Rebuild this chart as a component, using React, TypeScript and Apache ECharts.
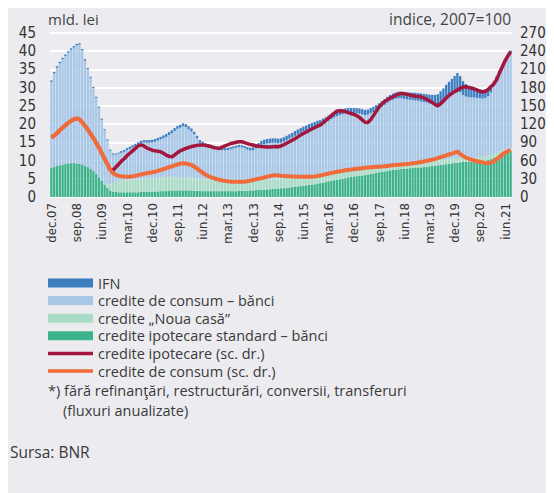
import React, { useEffect, useRef } from "react";
import * as echarts from "echarts";

// Monthly data, dec.07 .. aug.21 (165 months)
const monthNames = ["ian", "feb", "mar", "apr", "mai", "iun", "iul", "aug", "sep", "oct", "nov", "dec"];

// credite ipotecare standard – bănci (mld. lei)
const ipotecareStandard = [
  8.0, 8.3, 8.5, 8.7, 8.9, 9.1, 9.2, 9.3, 9.3, 9.2, 9.1, 8.9, 8.6, 8.2, 7.7, 7.1, 6.3, 5.4, 4.4, 3.4, 2.5, 1.8, 1.5, 1.4, 1.3,
  1.3, 1.3, 1.3, 1.3, 1.3, 1.3, 1.3, 1.4, 1.4, 1.4, 1.4, 1.4,
  1.5, 1.5, 1.6, 1.6, 1.7, 1.7, 1.8, 1.8, 1.8, 1.8, 1.8, 1.8,
  1.8, 1.8, 1.7, 1.7, 1.7, 1.6, 1.6, 1.6, 1.6, 1.6, 1.6, 1.6,
  1.6, 1.6, 1.6, 1.6, 1.6, 1.6, 1.7, 1.7, 1.7, 1.7, 1.8, 1.8,
  1.9, 1.9, 2.0, 2.0, 2.1, 2.1, 2.2, 2.3, 2.3, 2.4, 2.4, 2.5,
  2.6, 2.7, 2.8, 2.9, 3.0, 3.1, 3.2, 3.3, 3.4, 3.5, 3.6, 3.8,
  3.9, 4.1, 4.3, 4.5, 4.6, 4.7, 4.9, 5.0, 5.2, 5.4, 5.5, 5.6,
  5.7, 5.8, 5.9, 6.0, 6.1, 6.3, 6.4, 6.6, 6.8, 6.9, 7.0, 7.1,
  7.3, 7.4, 7.5, 7.6, 7.7, 7.8, 7.8, 7.9, 8.0, 8.0, 8.1, 8.1,
  8.2, 8.3, 8.4, 8.5, 8.6, 8.7, 8.8, 8.9, 9.0, 9.1, 9.2, 9.3,
  9.4, 9.5, 9.6, 9.6, 9.6, 9.6, 9.6, 9.7, 9.7, 9.8, 10.0, 10.2,
  10.4, 10.7, 11.0, 11.4, 11.8, 12.1, 12.4, 12.6,
];

// credite „Noua casă” (mld. lei)
const nouaCasa = [
  0, 0, 0, 0, 0, 0, 0, 0, 0, 0, 0, 0, 0, 0, 0, 0, 0, 0, 0, 0.4, 1.0, 1.7, 2.3, 2.8, 3.1,
  3.3, 3.4, 3.5, 3.5, 3.5, 3.5, 3.5, 3.5, 3.5, 3.6, 3.6, 3.6,
  3.6, 3.7, 3.7, 3.8, 3.8, 3.8, 3.8, 3.8, 3.7, 3.7, 3.6, 3.6,
  3.5, 3.5, 3.4, 3.4, 3.3, 3.3, 3.2, 3.2, 3.1, 3.1, 3.0, 3.0,
  3.0, 2.9, 2.9, 2.9, 2.8, 2.8, 2.8, 2.8, 2.8, 2.8, 2.8, 2.8,
  2.8, 2.8, 2.8, 2.8, 2.8, 2.8, 2.8, 2.8, 2.8, 2.8, 2.8, 2.8,
  2.8, 2.8, 2.8, 2.7, 2.7, 2.7, 2.7, 2.6, 2.6, 2.6, 2.5, 2.5,
  2.5, 2.4, 2.4, 2.3, 2.3, 2.2, 2.2, 2.1, 2.1, 2.0, 2.0, 2.0,
  1.9, 1.9, 1.9, 1.8, 1.8, 1.8, 1.8, 1.7, 1.7, 1.7, 1.7, 1.6,
  1.6, 1.6, 1.6, 1.6, 1.5, 1.5, 1.5, 1.5, 1.5, 1.5, 1.5, 1.5,
  1.5, 1.4, 1.4, 1.4, 1.4, 1.4, 1.4, 1.4, 1.4, 1.4, 1.4, 1.4,
  1.3, 1.3, 1.3, 1.3, 1.3, 1.3, 1.2, 1.2, 1.2, 1.2, 1.2, 1.2,
  1.1, 1.1, 1.1, 1.0, 1.0, 1.0, 1.0, 1.0,
];

// credite de consum – bănci (mld. lei)
const consumBanci = [
  23.6, 25.6, 27.0, 28.0, 28.9, 29.6, 30.4, 31.1, 31.7, 32.4, 32.7, 31.3, 28.8, 26.9, 25.0, 22.8, 20.9, 19.1, 16.8, 14.5, 12.0, 9.2, 7.9, 7.4, 7.5,
  7.5, 7.7, 8.1, 8.4, 8.8, 9.2, 9.6, 9.9, 10.1, 9.9, 9.9, 10.0,
  10.1, 10.3, 10.5, 10.7, 11.0, 11.5, 11.9, 12.5, 13.2, 13.5, 14.0, 13.8,
  13.3, 12.7, 12.1, 11.0, 9.9, 9.7, 9.4, 9.1, 8.9, 8.7, 8.6, 8.4,
  8.3, 8.3, 8.4, 8.6, 8.9, 9.1, 9.2, 9.1, 8.9, 8.5, 8.2, 8.2,
  8.6, 9.1, 9.5, 9.7, 9.8, 9.9, 9.9, 9.8, 9.7, 9.7, 10.0, 10.3,
  10.6, 10.9, 11.2, 11.6, 11.9, 12.2, 12.4, 12.8, 13.0, 13.2, 13.5, 13.5,
  13.8, 14.1, 14.2, 14.6, 14.9, 15.3, 15.4, 15.6, 15.6, 15.6, 15.5, 15.4,
  15.4, 15.2, 14.9, 14.7, 14.7, 14.9, 15.1, 15.4, 15.7, 16.2, 16.6, 17.2,
  17.5, 17.7, 17.9, 17.9, 17.9, 17.6, 17.5, 17.3, 17.1, 17.0, 16.8, 16.6,
  16.4, 16.2, 15.9, 15.6, 15.4, 15.3, 15.8, 16.2, 16.8, 17.2, 17.6, 18.0,
  18.5, 18.0, 17.1, 16.7, 16.5, 16.4, 16.5, 16.3, 16.2, 16.0, 16.0, 16.3,
  17.2, 18.5, 19.8, 21.1, 22.4, 23.8, 24.8, 25.8,
];

// IFN (mld. lei)
const ifn = [
  0.4, 0.4, 0.4, 0.4, 0.4, 0.4, 0.4, 0.4, 0.4, 0.4, 0.4, 0.4, 0.4, 0.3, 0.3, 0.3, 0.3, 0.3, 0.3, 0.3, 0.3, 0.3, 0.3, 0.3, 0.3,
  0.5, 0.5, 0.5, 0.6, 0.6, 0.6, 0.6, 0.6, 0.6, 0.7, 0.7, 0.7,
  0.7, 0.7, 0.7, 0.8, 0.8, 0.8, 0.8, 0.8, 0.8, 0.8, 0.8, 0.8,
  0.8, 0.8, 0.7, 0.7, 0.7, 0.6, 0.6, 0.6, 0.6, 0.6, 0.6, 0.6,
  0.6, 0.6, 0.6, 0.6, 0.6, 0.6, 0.6, 0.6, 0.6, 0.7, 0.7, 0.8,
  0.9, 1.0, 1.1, 1.2, 1.2, 1.2, 1.2, 1.2, 1.2, 1.2, 1.2, 1.2,
  1.2, 1.2, 1.3, 1.3, 1.3, 1.3, 1.3, 1.3, 1.3, 1.3, 1.3, 1.3,
  1.3, 1.3, 1.4, 1.4, 1.4, 1.4, 1.4, 1.4, 1.4, 1.4, 1.4, 1.4,
  1.4, 1.4, 1.4, 1.4, 1.4, 1.4, 1.5, 1.5, 1.5, 1.5, 1.6, 1.6,
  1.6, 1.7, 1.7, 1.8, 1.8, 1.9, 1.9, 2.0, 2.0, 2.1, 2.1, 2.2,
  2.2, 2.3, 2.4, 2.5, 2.6, 2.8, 3.0, 3.3, 3.6, 3.9, 4.2, 4.5,
  4.8, 4.4, 3.8, 3.4, 3.1, 2.9, 2.7, 2.6, 2.5, 2.4, 2.3, 2.1,
  1.8, 1.5, 1.3, 1.1, 1.0, 0.9, 0.8, 0.8,
];

// credite ipotecare (sc. dr.), indice 2007=100
const indiceIpotecare = [
  98, 101, 105, 110, 114, 118, 122, 125, 128, 129.5, 128, 123, 117, 111, 104, 97, 89, 81, 72, 63, 54, 45, 44, 49, 54,
  59, 63, 68, 72, 76, 80, 84, 86, 84, 81, 79, 77,
  76, 75.5, 74.6, 72, 69, 67, 66, 69, 73, 76, 78, 80,
  81.5, 83, 84, 85, 85.5, 85.6, 85, 84, 83, 81.5, 80.5, 80,
  82, 84, 86, 88, 89, 90, 91, 91, 89.5, 88, 86.5, 85.5,
  84.5, 83.5, 83, 82.8, 82.5, 82.5, 82.8, 83, 82.8, 84, 86, 88.5,
  91, 93.5, 96, 99, 102, 104.5, 107, 109.5, 112, 114, 116.5, 118.5,
  122, 126, 130, 134, 138, 141.5, 142, 141.5, 140.5, 139, 137.5, 136,
  134, 131, 127, 123, 122.5, 127, 134, 141, 148, 153, 157, 160,
  163, 165, 167.5, 169.5, 170.6, 170, 169, 168, 167, 166, 165.5, 165,
  163, 161, 158.5, 155.5, 152.5, 150, 153.5, 158, 163, 167, 170.5, 173.5,
  176, 179, 181, 181.5, 180.5, 179.5, 178, 176, 174, 173, 174, 177,
  182, 186, 193, 204, 214, 224, 232, 239,
];

// credite de consum (sc. dr.), indice 2007=100
const indiceConsum = [
  98, 101, 105, 110, 114, 118, 122, 125, 128, 129.5, 128, 123, 117, 111, 104, 97, 89, 81, 72, 63, 54, 45, 39, 36.5, 35,
  34, 33.5, 33.4, 33.5, 34, 35, 36, 37, 38, 39, 40, 40.8,
  41.7, 43, 44.5, 46, 47.5, 49, 50.5, 52, 53.5, 55, 55.5, 55,
  54, 52.5, 50, 47, 43.5, 40, 37, 34.5, 32.5, 31, 29.5, 28.3,
  27.3, 26.5, 25.8, 25.3, 25.1, 25, 25, 25.1, 25.3, 26, 27, 28,
  29, 30, 31, 32.2, 33.3, 34.3, 35.5, 36, 35.5, 35, 34.6, 34.3,
  34, 33.8, 33.6, 33.5, 33.4, 33.4, 33.4, 33.4, 33.4, 33.8, 34.5, 35.5,
  36.5, 37.5, 38.5, 39.5, 40.5, 41.5, 42.3, 43, 44, 44.6, 45.2, 45.8,
  46.4, 47, 47.5, 48, 48.5, 49, 49.4, 49.8, 50, 50.3, 50.7, 51.2,
  51.7, 52.2, 52.7, 53.2, 53.6, 54, 54.4, 54.8, 55.4, 56, 56.8, 57.6,
  58.5, 59.5, 60.5, 61.5, 62.6, 64, 65.5, 67, 68.5, 70, 71.5, 73,
  74.6, 71, 67.5, 65, 63, 61.5, 60, 58.8, 58, 57, 56, 55.5,
  56.5, 59, 62, 66, 70, 73, 75.5, 77.4,
];

const leftTicks = { min: 0, max: 45, interval: 5 };
const rightTicks = { min: 0, max: 270, interval: 30 };

const categories: string[] = [];
for (let k = 0; k < ipotecareStandard.length; k++) {
  const m = (11 + k) % 12;
  const y = 2007 + Math.floor((11 + k) / 12);
  categories.push(monthNames[m] + "." + String(y % 100).padStart(2, "0"));
}

const NAMES = {
  ifn: "IFN",
  consum: "credite de consum – bănci",
  noua: "credite „Noua casă”",
  standard: "credite ipotecare standard – bănci",
  ipoLine: "credite ipotecare (sc. dr.)",
  consLine: "credite de consum (sc. dr.)",
};

const COLORS = {
  ifn: "#3b7dbf",
  consum: "#a7c7e7",
  noua: "#a9dcc6",
  standard: "#3db38b",
  ipoLine: "#a3173f",
  consLine: "#f26b3a",
};

const AXIS_FONT = "'DejaVu Sans Condensed', 'Liberation Sans Narrow', 'DejaVu Sans', sans-serif";
const TEXT_FONT = "'Open Sans', 'Noto Sans', sans-serif";
const TEXT_COLOR = "#3a3a3a";

const legendRows: [keyof typeof NAMES, "bar" | "line"][] = [
  ["ifn", "bar"],
  ["consum", "bar"],
  ["noua", "bar"],
  ["standard", "bar"],
  ["ipoLine", "line"],
  ["consLine", "line"],
];

function buildLegendGraphics() {
  const out: any[] = [];
  const x0 = 40;
  const y0 = 275;
  const step = 17.6;
  legendRows.forEach(([key, kind], idx) => {
    const cy = y0 + idx * step;
    const h = kind === "bar" ? 9 : 3.5;
    out.push({
      type: "rect",
      shape: { x: x0, y: cy - h / 2, width: 45, height: h },
      style: { fill: COLORS[key] },
    });
    out.push({
      type: "text",
      x: x0 + 50,
      y: cy,
      style: {
        text: NAMES[key],
        fontSize: 14.5,
        lineHeight: 15,
        fill: TEXT_COLOR,
        fontFamily: TEXT_FONT,
        verticalAlign: "middle",
      },
    });
  });
  return out;
}

export default function App() {
  const ref = useRef<HTMLDivElement>(null);
  useEffect(() => {
    if (!ref.current) return;
    const chart = echarts.init(ref.current, null, { renderer: "svg" });
    const barCommon = { type: "bar", stack: "total", barCategoryGap: "18%", xAxisIndex: 0, yAxisIndex: 0 };
    chart.setOption({
      animation: false,
      grid: { left: 42, right: 42, top: 25, bottom: 296 },
      xAxis: {
        type: "category",
        data: categories,
        axisLine: { show: false },
        axisTick: { show: false },
        axisLabel: {
          interval: 8,
          rotate: 90,
          fontSize: 13,
          color: "#333",
          fontFamily: AXIS_FONT,
          margin: 6,
        },
      },
      yAxis: [
        {
          type: "value",
          ...leftTicks,
          axisLine: { show: false },
          axisTick: { show: false },
          splitLine: { lineStyle: { color: "#ffffff", width: 2 } },
          axisLabel: { fontSize: 15, color: "#333", fontFamily: AXIS_FONT, margin: 14 },
        },
        {
          type: "value",
          ...rightTicks,
          position: "right",
          axisLine: { show: false },
          axisTick: { show: false },
          splitLine: { show: false },
          axisLabel: { fontSize: 15, color: "#333", fontFamily: AXIS_FONT, margin: 8 },
        },
      ],
      graphic: [
        {
          type: "text",
          left: 40,
          top: 3,
          style: { text: "mld. lei", fontSize: 15, fill: "#444", fontFamily: TEXT_FONT },
        },
        {
          type: "text",
          right: 43,
          top: 3,
          style: { text: "indice, 2007=100", fontSize: 15.5, fill: "#444", fontFamily: TEXT_FONT },
        },
        ...buildLegendGraphics(),
        {
          type: "text",
          left: 40,
          top: 375,
          style: {
            text: "*) fără refinanţări, restructurări, conversii, transferuri",
            fontSize: 14.5,
            lineHeight: 15,
            fill: TEXT_COLOR,
            fontFamily: TEXT_FONT,
          },
        },
        {
          type: "text",
          left: 55,
          top: 395,
          style: { text: "(fluxuri anualizate)", fontSize: 14.5, lineHeight: 15, fill: TEXT_COLOR, fontFamily: TEXT_FONT },
        },
        {
          type: "text",
          left: 2,
          top: 436,
          style: { text: "Sursa: BNR", fontSize: 15.5, fill: TEXT_COLOR, fontFamily: TEXT_FONT },
        },
      ],
      series: [
        { ...barCommon, name: NAMES.standard, data: ipotecareStandard, itemStyle: { color: COLORS.standard } },
        { ...barCommon, name: NAMES.noua, data: nouaCasa, itemStyle: { color: COLORS.noua } },
        { ...barCommon, name: NAMES.consum, data: consumBanci, itemStyle: { color: COLORS.consum } },
        { ...barCommon, name: NAMES.ifn, data: ifn, itemStyle: { color: COLORS.ifn } },
        {
          type: "line",
          name: NAMES.ipoLine,
          yAxisIndex: 1,
          data: indiceIpotecare,
          showSymbol: false,
          symbol: "none",
          lineStyle: { color: COLORS.ipoLine, width: 3.5 },
          itemStyle: { color: COLORS.ipoLine },
          z: 3,
        },
        {
          type: "line",
          name: NAMES.consLine,
          yAxisIndex: 1,
          data: indiceConsum,
          showSymbol: false,
          symbol: "none",
          lineStyle: { color: COLORS.consLine, width: 4 },
          itemStyle: { color: COLORS.consLine },
          z: 4,
        },
      ],
    });
    return () => chart.dispose();
  }, []);
  return <div ref={ref} style={{ width: 546, height: 485, background: "#ececf0" }} />;
}
